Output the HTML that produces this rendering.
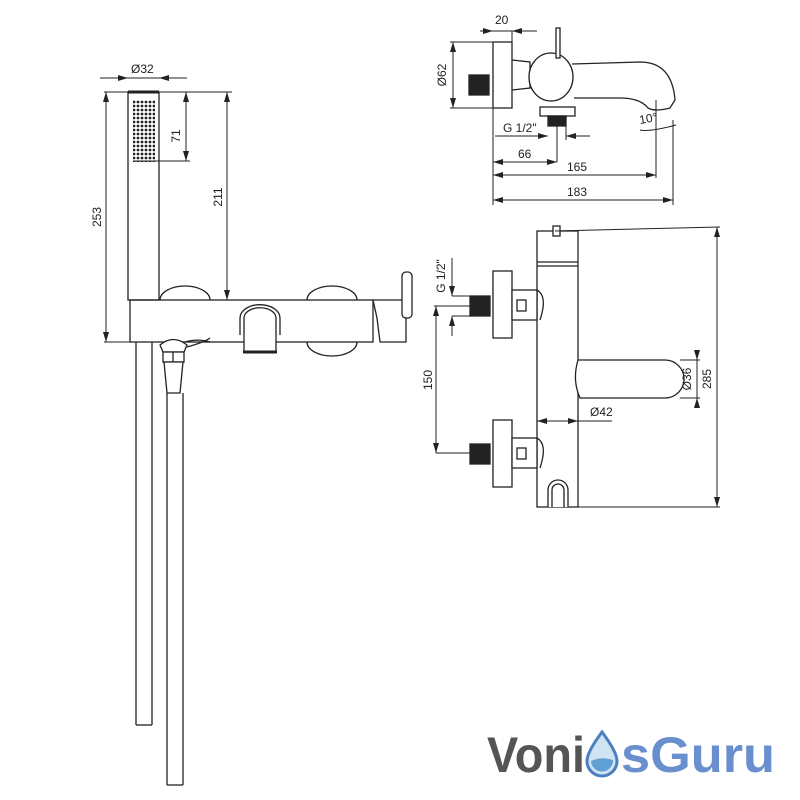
<!DOCTYPE html>
<html><head><style>
html,body{margin:0;padding:0;background:#fff}
svg{display:block}
text{font-family:"Liberation Sans",sans-serif;font-size:12px;fill:#222}
</style></head><body>
<svg width="800" height="800" viewBox="0 0 800 800" xmlns="http://www.w3.org/2000/svg">
<defs>
<marker id="a" viewBox="0 0 10 6" refX="10" refY="3" markerWidth="10" markerHeight="6" orient="auto-start-reverse" markerUnits="userSpaceOnUse"><path d="M0,0L10,3L0,6z" fill="#222"/></marker>
<pattern id="dots" width="4" height="4" patternUnits="userSpaceOnUse"><circle cx="2" cy="2" r="1.4" fill="#222"/></pattern>
</defs>
<g stroke="#222" stroke-width="1.3" fill="none">
<rect x="128" y="92" width="31" height="208" fill="#fff"/>
<line x1="128" y1="92" x2="159" y2="92" stroke-width="3"/>
<rect x="133" y="100" width="22" height="62" fill="url(#dots)" stroke="none"/>
<line x1="100" y1="78" x2="128" y2="78" marker-end="url(#a)" stroke-width="1"/>
<line x1="187" y1="78" x2="159" y2="78" marker-end="url(#a)" stroke-width="1"/>
<line x1="128" y1="78" x2="159" y2="78" stroke-width="1"/>
<line x1="104" y1="92" x2="128" y2="92" stroke-width="1"/>
<line x1="159" y1="92" x2="232" y2="92" stroke-width="1"/>
<line x1="106" y1="92" x2="106" y2="342" marker-start="url(#a)" marker-end="url(#a)" stroke-width="1"/>
<line x1="104" y1="342" x2="130" y2="342" stroke-width="1"/>
<line x1="227" y1="92" x2="227" y2="300" marker-start="url(#a)" marker-end="url(#a)" stroke-width="1"/>
<line x1="186" y1="92" x2="186" y2="161" marker-start="url(#a)" marker-end="url(#a)" stroke-width="1"/>
<line x1="133" y1="161" x2="190" y2="161" stroke-width="1"/>
<path d="M160,300 A25,14 0 0 1 210,300"/>
<path d="M307,300 A25,14 0 0 1 357,300"/>
<path d="M185,342 A25,14 0 0 1 210,342"/>
<path d="M307,342 A25,14 0 0 0 357,342"/>
<rect x="130" y="300" width="243" height="42" fill="none"/>
<path d="M373,300 L377,318 L380,342 L406,342 L406,300 Z"/>
<rect x="402" y="272" width="10" height="46" rx="4" fill="#fff"/>
<path d="M240,335 L240,318 A18,12 0 0 1 280,318 L280,335" fill="#fff"/>
<path d="M244,352 L244,318 A14,9 0 0 1 276,318 L276,352 Z" fill="#fff"/>
<line x1="243" y1="352" x2="277" y2="352" stroke-width="3"/>
<line x1="136" y1="342" x2="136" y2="725"/><line x1="152" y1="342" x2="152" y2="725"/>
<line x1="136" y1="725" x2="152" y2="725"/>
<path d="M160,345 Q173,334 187,345 L184,352 L163,352 Z" fill="#fff"/>
<rect x="163" y="352" width="21" height="10" fill="#fff"/>
<line x1="173" y1="352" x2="173" y2="362"/>
<path d="M164,362 L183,362 L180,393 L167,393 Z" fill="#fff"/>
<path d="M187,347 Q205,342 210,338"/>
<line x1="167" y1="393" x2="167" y2="785"/><line x1="183" y1="393" x2="183" y2="785"/>
<line x1="167" y1="785" x2="183" y2="785"/>

<rect x="493" y="42" width="19" height="66"/>
<rect x="469" y="75" width="20" height="20" fill="#222"/>
<line x1="450" y1="42" x2="493" y2="42" stroke-width="1"/>
<line x1="450" y1="108" x2="493" y2="108" stroke-width="1"/>
<line x1="453" y1="42" x2="453" y2="108" marker-start="url(#a)" marker-end="url(#a)" stroke-width="1"/>
<line x1="480" y1="31" x2="493" y2="31" marker-end="url(#a)" stroke-width="1"/>
<line x1="537" y1="31" x2="512" y2="31" marker-end="url(#a)" stroke-width="1"/>
<line x1="493" y1="31" x2="512" y2="31" stroke-width="1"/>
<line x1="493" y1="108" x2="493" y2="205" stroke-width="1"/>
<line x1="512" y1="31" x2="512" y2="42" stroke-width="1"/>
<path d="M512,60 L530,62 L530,88 L512,90"/>
<ellipse cx="551" cy="77" rx="22" ry="24" fill="#fff"/>
<rect x="556" y="28" width="4" height="30" fill="#fff"/>
<path d="M572,64 L640,62 Q672,62 675,100 L670,108 Q655,112 648,108 Q640,98 620,98 L574,98"/>
<rect x="540" y="107" width="35" height="9" fill="#fff"/>
<rect x="548" y="116" width="18" height="10" fill="#222"/>
<line x1="557" y1="126" x2="557" y2="162" stroke-width="1"/>
<line x1="495" y1="136" x2="548" y2="136" marker-end="url(#a)" stroke-width="1"/>
<line x1="590" y1="136" x2="566" y2="136" marker-end="url(#a)" stroke-width="1"/>
<line x1="566" y1="126" x2="566" y2="140" stroke-width="1"/>
<line x1="493" y1="162" x2="557" y2="162" marker-start="url(#a)" marker-end="url(#a)" stroke-width="1"/>
<line x1="493" y1="175" x2="656" y2="175" marker-start="url(#a)" marker-end="url(#a)" stroke-width="1"/>
<line x1="656" y1="100" x2="656" y2="178" stroke-width="1"/>
<line x1="493" y1="200" x2="673" y2="200" marker-start="url(#a)" marker-end="url(#a)" stroke-width="1"/>
<line x1="673" y1="120" x2="673" y2="205" stroke-width="1"/>
<path d="M640,130 Q650,132 676,125" stroke-width="1"/>

<rect x="537" y="231" width="41" height="276"/>
<line x1="537" y1="262" x2="578" y2="262"/><line x1="537" y1="266" x2="578" y2="266"/>
<rect x="553" y="226" width="7" height="10" fill="#fff"/>
<line x1="555" y1="231" x2="720" y2="227" stroke-width="1"/>
<line x1="578" y1="507" x2="720" y2="507" stroke-width="1"/>
<line x1="717" y1="227" x2="717" y2="507" marker-start="url(#a)" marker-end="url(#a)" stroke-width="1"/>
<path d="M548,507 L548,490 A10,10 0 0 1 568,490 L568,507" fill="#fff"/>
<path d="M552,507 L552,490 A6,6 0 0 1 564,490 L564,507"/>
<path d="M578,360 L665,360 A19,19 0 0 1 665,398 L580,398 Q572,380 578,360 Z" fill="#fff"/>
<line x1="680" y1="360" x2="700" y2="360" stroke-width="1"/>
<line x1="680" y1="398" x2="700" y2="398" stroke-width="1"/>
<line x1="697" y1="350" x2="697" y2="408" stroke-width="1"/>
<line x1="697" y1="350" x2="697" y2="360" marker-end="url(#a)" stroke-width="1"/>
<line x1="697" y1="408" x2="697" y2="398" marker-end="url(#a)" stroke-width="1"/>
<line x1="537" y1="421" x2="578" y2="421" marker-start="url(#a)" marker-end="url(#a)" stroke-width="1"/>
<line x1="578" y1="421" x2="612" y2="421" stroke-width="1"/>
<rect x="493" y="271" width="19" height="67" fill="#fff"/>
<rect x="493" y="420" width="19" height="67" fill="#fff"/>
<rect x="470" y="296" width="20" height="20" fill="#222"/>
<rect x="470" y="444" width="20" height="20" fill="#222"/>
<rect x="512" y="290" width="25" height="30" fill="#fff"/>
<rect x="517" y="300" width="9" height="11"/>
<rect x="512" y="438" width="25" height="30" fill="#fff"/>
<rect x="517" y="448" width="9" height="11"/>
<path d="M537,290 Q548,296 540,320"/>
<path d="M537,438 Q548,444 540,468"/>
<line x1="452" y1="296" x2="470" y2="296" stroke-width="1"/>
<line x1="452" y1="316" x2="470" y2="316" stroke-width="1"/>
<line x1="452" y1="258" x2="452" y2="296" marker-end="url(#a)" stroke-width="1"/>
<line x1="452" y1="336" x2="452" y2="316" marker-end="url(#a)" stroke-width="1"/>
<line x1="434" y1="306" x2="470" y2="306" stroke-width="1"/>
<line x1="436" y1="453" x2="470" y2="453" stroke-width="1"/>
<line x1="436" y1="306" x2="436" y2="453" marker-start="url(#a)" marker-end="url(#a)" stroke-width="1"/>
</g>
<g>
<text x="131" y="73">Ø32</text>
<text transform="translate(180,136) rotate(-90)" text-anchor="middle">71</text>
<text transform="translate(101,217) rotate(-90)" text-anchor="middle">253</text>
<text transform="translate(222,197) rotate(-90)" text-anchor="middle">211</text>
<text x="495" y="24">20</text>
<text transform="translate(446,75) rotate(-90)" text-anchor="middle">Ø62</text>
<text x="503" y="132">G 1/2"</text>
<text x="518" y="158">66</text>
<text x="567" y="171">165</text>
<text x="567" y="196">183</text>
<text transform="translate(640,124) rotate(-10)">10°</text>
<text transform="translate(445,276) rotate(-90)" text-anchor="middle">G 1/2"</text>
<text transform="translate(432,380) rotate(-90)" text-anchor="middle">150</text>
<text transform="translate(691,379) rotate(-90)" text-anchor="middle">Ø36</text>
<text transform="translate(711,379) rotate(-90)" text-anchor="middle">285</text>
<text x="590" y="416">Ø42</text>
</g>
<text x="487" y="772" textLength="98" lengthAdjust="spacingAndGlyphs" style="font-size:50px;font-weight:bold;fill:#555">Voni</text>
<text x="621" y="772" textLength="154" lengthAdjust="spacingAndGlyphs" style="font-size:50px;font-weight:bold;fill:#6a8fcf">sGuru</text>
<path d="M602,732 Q587,752 587,761 A15,15 0 0 0 617,761 Q617,752 602,732 Z" fill="#cfe3f3" stroke="#4b7fc0" stroke-width="3"/>
<path d="M591,761 Q602,756 613,760 A11,11 0 0 1 591,761 Z" fill="#5f9fd4"/>
</svg>
</body></html>
